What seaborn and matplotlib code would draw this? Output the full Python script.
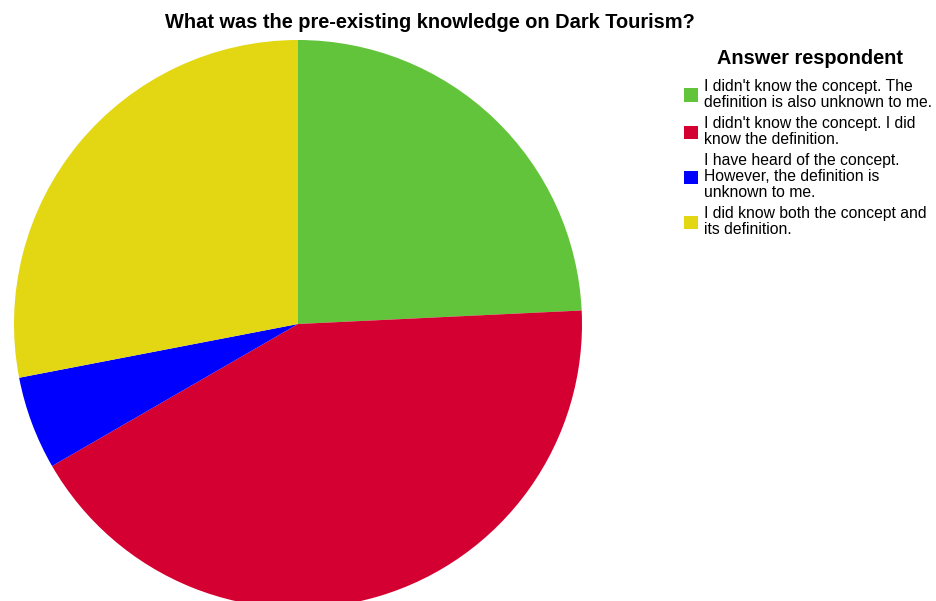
import matplotlib
matplotlib.use("Agg")
import matplotlib.pyplot as plt
import seaborn as sns
from matplotlib.patches import Patch

sns.set_theme(style="white")
plt.rcParams['font.family'] = ['Liberation Sans', 'DejaVu Sans']
plt.rcParams['text.color'] = 'black'

categories = [
    "I didn't know the concept. The\ndefinition is also unknown to me.",
    "I didn't know the concept. I did\nknow the definition.",
    "I have heard of the concept.\nHowever, the definition is\nunknown to me.",
    "I did know both the concept and\nits definition.",
]
counts = [32, 56, 7, 37]
colors = sns.color_palette(["#62C43A", "#D50032", "#0000FF", "#E2D712"])

fig = plt.figure(figsize=(9.36, 6.01), dpi=100)
ax = fig.add_axes([14/936, -7/601, 568/936, 568/601])
ax.pie(counts, colors=colors, startangle=90, counterclock=False,
       radius=1.0, wedgeprops=dict(linewidth=0))
ax.set_xlim(-1, 1)
ax.set_ylim(-1, 1)
ax.set_aspect('equal')
ax.axis('off')

fig.text(430/936, 1 - 22/601, "What was the pre-existing knowledge on Dark Tourism?",
         ha='center', va='center', fontsize=14.4, fontweight='bold', color='black')
fig.text(810/936, 1 - 58/601, "Answer respondent",
         ha='center', va='center', fontsize=14.3, fontweight='bold', color='black')

handles = [Patch(facecolor=c, edgecolor='none') for c in colors]
leg = fig.legend(handles, categories, loc='upper left',
                 bbox_to_anchor=(684/936, 1 - 79/601), frameon=False,
                 fontsize=11.3,
                 handlelength=0.9, handleheight=0.9, handletextpad=0.35,
                 labelspacing=0.4, borderpad=0, borderaxespad=0)
for t in leg.get_texts():
    t.set_linespacing(1.07)
    t.set_color('black')

fig.savefig("out.png", dpi=100)
